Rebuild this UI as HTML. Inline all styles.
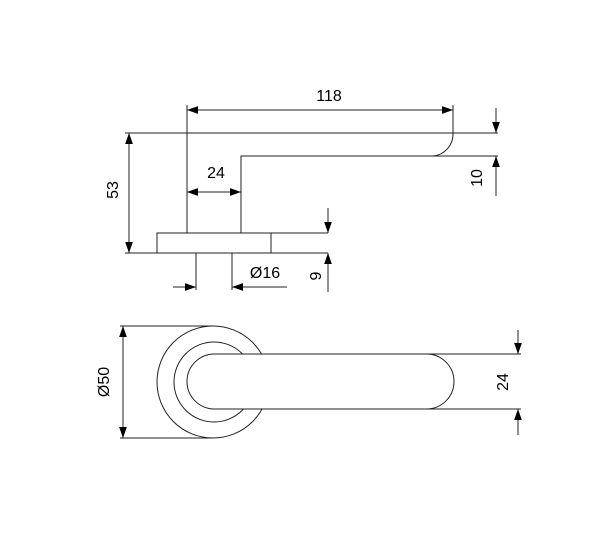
<!DOCTYPE html>
<html><head><style>body{margin:0;background:#fff}svg{display:block}</style></head><body>
<svg width="600" height="555" xmlns="http://www.w3.org/2000/svg" font-family="Liberation Sans, sans-serif" font-size="16" fill="none" stroke="#222" stroke-width="1">
<defs>
<marker id="a" viewBox="0 0 10 10" refX="10" refY="5" markerWidth="11" markerHeight="11" orient="auto-start-reverse" markerUnits="userSpaceOnUse"><path d="M0,1.5 L10,5 L0,8.5z" fill="#000" stroke="none"/></marker>
</defs>
<line x1="125" y1="133" x2="498" y2="133"/>
<path d="M187,133 V233 M241,233 V156 H433 A22,22 0 0 0 453,133"/>
<line x1="433" y1="156" x2="498" y2="156"/>
<line x1="187" y1="105" x2="187" y2="133"/><line x1="453" y1="105" x2="453" y2="133"/>
<line x1="187" y1="110" x2="453" y2="110" marker-start="url(#a)" marker-end="url(#a)"/>
<line x1="187" y1="192" x2="241" y2="192" marker-start="url(#a)" marker-end="url(#a)"/>
<line x1="129" y1="133" x2="129" y2="253" marker-start="url(#a)" marker-end="url(#a)"/>
<rect x="157" y="233" width="114" height="20"/>
<line x1="125" y1="253" x2="157" y2="253"/>
<line x1="271" y1="233" x2="328" y2="233"/><line x1="271" y1="253" x2="328" y2="253"/>
<path d="M196,253 V290 M232,253 V290"/>
<line x1="173" y1="287" x2="196" y2="287" marker-end="url(#a)"/>
<line x1="287" y1="287" x2="232" y2="287" marker-end="url(#a)"/>
<line x1="328" y1="208" x2="328" y2="233" marker-end="url(#a)"/>
<line x1="328" y1="292" x2="328" y2="253" marker-end="url(#a)"/>
<line x1="496" y1="108" x2="496" y2="133" marker-end="url(#a)"/>
<line x1="496" y1="196" x2="496" y2="156" marker-end="url(#a)"/>
<circle cx="213" cy="382" r="56"/>
<circle cx="214" cy="382" r="40"/>
<path d="M214.5,354 H426.5 A27.5,27.5 0 0 1 426.5,409 H214.5 A27.5,27.5 0 0 1 214.5,354 Z" fill="#fff"/>
<line x1="120" y1="326" x2="213" y2="326"/><line x1="120" y1="438" x2="213" y2="438"/>
<line x1="123" y1="326" x2="123" y2="438" marker-start="url(#a)" marker-end="url(#a)"/>
<line x1="426" y1="354" x2="521" y2="354"/><line x1="426" y1="409" x2="521" y2="409"/>
<line x1="518" y1="330" x2="518" y2="354" marker-end="url(#a)"/>
<line x1="518" y1="435" x2="518" y2="409" marker-end="url(#a)"/>
<g fill="#000" stroke="none" text-anchor="middle">
<text x="329" y="101">118</text>
<text x="216" y="178">24</text>
<text x="265" y="278">Ø16</text>
<text transform="translate(118,190) rotate(-90)">53</text>
<text transform="translate(321,276) rotate(-90)">9</text>
<text transform="translate(482,178) rotate(-90)">10</text>
<text transform="translate(109,382) rotate(-90)">Ø50</text>
<text transform="translate(508,382) rotate(-90)">24</text>
</g>
</svg>
</body></html>
